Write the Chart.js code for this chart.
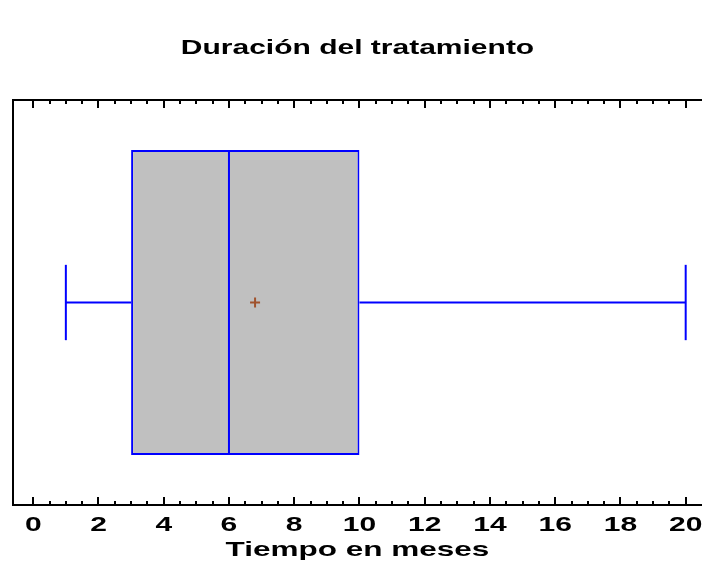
<!DOCTYPE html>
<html>
<head>
<meta charset="utf-8">
<script src="https://cdn.jsdelivr.net/npm/chart.js@4/dist/chart.umd.min.js"></script>
<style>
  html, body { margin: 0; padding: 0; background: #fff; }
  #wrap { width: 702px; height: 565px; }
</style>
</head>
<body>
<div id="wrap"><canvas id="boxChart"></canvas></div>
<script>
// min, Q1, median, Q3, max
const boxStats = [1, 3, 6, 10, 20]
const meanValue = [6.8]
const tickValues = [0, 2, 4, 6, 8, 10, 12, 14, 16, 18, 20]
const tickLabels = ['0', '2', '4', '6', '8', '10', '12', '14', '16', '18', '20']

const chartTitle = 'Duración del tratamiento'
const axisTitle = 'Tiempo en meses'

// look
const boxHalf = 0.3765
const capHalf = 0.093
const minorStep = 0.5
const textStretch = 1.5
const blue = '#0000FF'
const fontFamily = 'Arial, "Liberation Sans", sans-serif'

const [vMin, q1, med, q3, vMax] = boxStats
const mid = 0.5

const line = (pts) => ({
  type: 'scatter',
  data: pts,
  showLine: true,
  borderColor: blue,
  borderWidth: 2,
  pointRadius: 0,
  order: 1
})

// the original uses wide (horizontally stretched) lettering
const wideText = {
  id: 'wideText',
  beforeInit (chart) {
    const ctx = chart.ctx
    const fill = ctx.fillText.bind(ctx)
    ctx.fillText = (text, x, y, maxWidth) => {
      ctx.save()
      ctx.translate(x, y)
      ctx.scale(textStretch, 1)
      fill(text, 0, 0)
      ctx.restore()
    }
  }
}

// frame + inward ticks on top and bottom
const frameTicks = {
  id: 'frameTicks',
  afterDatasetsDraw (chart) {
    const { ctx, chartArea: a, scales: { x } } = chart
    ctx.save()
    ctx.strokeStyle = '#000'
    ctx.lineWidth = 2
    ctx.beginPath()
    ctx.moveTo(a.right + 2, a.top)
    ctx.lineTo(a.left, a.top)
    ctx.lineTo(a.left, a.bottom)
    ctx.lineTo(a.right + 2, a.bottom)
    ctx.stroke()
    const first = tickValues[0]
    const last = tickValues[tickValues.length - 1]
    ctx.beginPath()
    for (let v = first; v <= last + 1e-9; v += minorStep) {
      const len = tickValues.includes(v) ? 8 : 4
      const px = Math.round(x.getPixelForValue(v))
      ctx.moveTo(px, a.bottom)
      ctx.lineTo(px, a.bottom - len)
      ctx.moveTo(px, a.top)
      ctx.lineTo(px, a.top + len)
    }
    ctx.stroke()
    ctx.restore()
  }
}

new Chart(document.getElementById('boxChart'), {
  type: 'bar',
  data: {
    datasets: [
      {
        type: 'scatter',
        label: 'Media',
        data: [{ x: meanValue[0], y: mid }],
        pointStyle: 'cross',
        pointRadius: 5,
        borderColor: '#A0522D',
        borderWidth: 2,
        order: 0
      },
      line([{ x: med, y: mid - boxHalf }, { x: med, y: mid + boxHalf }]),
      line([{ x: vMin, y: mid }, { x: q1, y: mid }]),
      line([{ x: q3, y: mid }, { x: vMax, y: mid }]),
      line([{ x: vMin, y: mid - capHalf }, { x: vMin, y: mid + capHalf }]),
      line([{ x: vMax, y: mid - capHalf }, { x: vMax, y: mid + capHalf }]),
      {
        type: 'bar',
        label: axisTitle,
        indexAxis: 'y',
        data: [{ x: [q1, q3], y: mid }],
        backgroundColor: '#C0C0C0',
        borderColor: blue,
        borderWidth: 2,
        borderSkipped: false,
        barPercentage: boxHalf * 2,
        categoryPercentage: 1,
        order: 2
      }
    ]
  },
  options: {
    responsive: true,
    maintainAspectRatio: false,
    animation: false,
    layout: { autoPadding: false, padding: { left: 13, right: 0, top: 0, bottom: 0 } },
    plugins: {
      legend: { display: false },
      tooltip: { enabled: false },
      title: {
        display: true,
        text: chartTitle,
        color: '#000',
        font: { family: fontFamily, size: 20, weight: 'bold' },
        padding: { top: 36, bottom: 40 }
      }
    },
    scales: {
      x: {
        type: 'linear',
        offset: false,
        min: -0.62,
        max: 20.5,
        afterBuildTicks: (s) => { s.ticks = tickValues.map(v => ({ value: v })) },
        afterFit: (s) => {
          s.height = 60
          s.paddingLeft = 0
          s.paddingRight = 0
        },
        grid: { display: false, drawTicks: false },
        border: { display: false },
        ticks: {
          autoSkip: false,
          maxRotation: 0,
          padding: 8,
          color: '#000',
          font: { family: fontFamily, size: 20, weight: 'bold' },
          callback: (v) => tickLabels[tickValues.indexOf(v)]
        },
        title: {
          display: true,
          text: axisTitle,
          color: '#000',
          font: { family: fontFamily, size: 21, weight: 'bold' },
          padding: { top: 0, bottom: 2 }
        }
      },
      y: {
        type: 'linear',
        display: false,
        offset: false,
        min: 0,
        max: 1,
        afterBuildTicks: (s) => { s.ticks = [{ value: 0 }, { value: 1 }] }
      }
    }
  },
  plugins: [wideText, frameTicks]
})
</script>
</body>
</html>
